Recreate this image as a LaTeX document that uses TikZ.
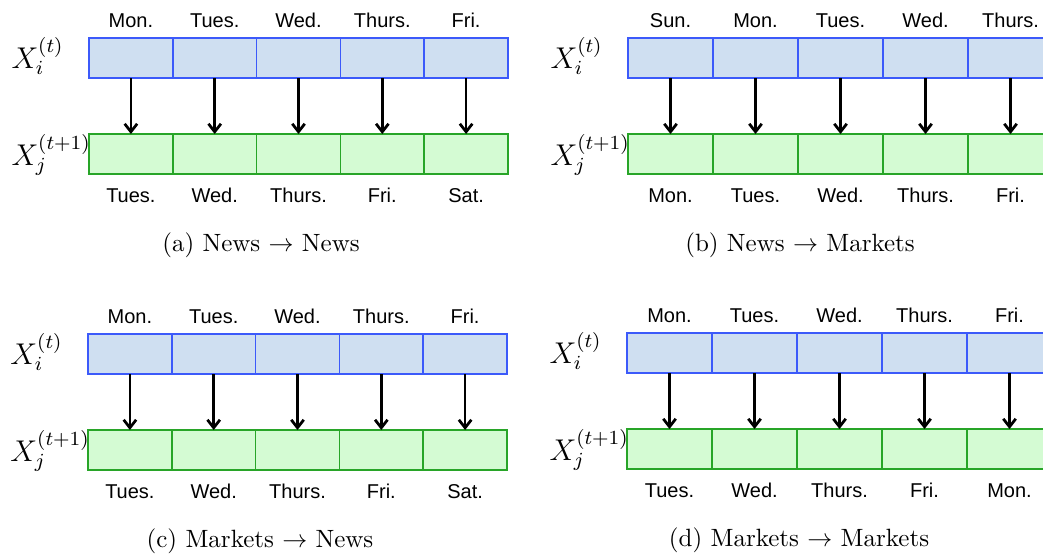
\documentclass[tikz,border=0pt]{standalone}
\usepackage{fontspec}
\usetikzlibrary{arrows.meta}
\newfontfamily\daysf{Liberation Sans}
\definecolor{cellblue}{RGB}{207,223,241}
\definecolor{edgeblue}{RGB}{60,90,250}
\definecolor{cellgreen}{RGB}{212,251,211}
\definecolor{edgegreen}{RGB}{40,165,40}
\newcommand{\weekpanel}[5]{%
    \begin{scope}[shift={#2}]
        \node[varlbl] (#1-xi) at (-78,30) {$X_i^{(t)}$};
        \node[varlbl] (#1-xj) at (-78,127) {$X_j^{(t+1)}$};
        \foreach \d/\e [count=\k] in {#4} {
            \node[topcell, minimum width=#3*0.4pt] (#1-top-\k) at ({(\k-0.5)*#3},20) {};
            \node[botcell, minimum width=#3*0.4pt] (#1-bot-\k) at ({(\k-0.5)*#3},116) {};
            \node[daylbl] (#1-day-\k) at ({(\k-0.5)*#3},-11) {\d};
            \node[daylbl] (#1-next-\k) at ({(\k-0.5)*#3},164) {\e};
            \draw[flow] (#1-top-\k) -- (#1-bot-\k);
        }
        \node[caplbl] (#1-cap) at (172,213) {#5};
    \end{scope}}

\begin{document}
\begin{tikzpicture}[x=0.4pt, y=-0.4pt,
    topcell/.style={draw=edgeblue, fill=cellblue, line width=0.6pt, minimum height=16pt, inner sep=0pt, outer sep=0pt},
    botcell/.style={draw=edgegreen, fill=cellgreen, line width=0.6pt, minimum height=16pt, inner sep=0pt, outer sep=0pt},
    daylbl/.style={anchor=base, inner sep=0pt, font=\fontsize{8}{10}\selectfont\daysf},
    varlbl/.style={anchor=base west, inner sep=0pt, font=\large},
    caplbl/.style={anchor=base, inner sep=0pt, font=\normalsize},
    flow/.style={line width=1.1pt, -{Straight Barb[length=3.2pt,width=5pt]}}]
    \useasboundingbox (0,0) rectangle (1043,554);
    \clip (0,0) rectangle (1043,554);
    \weekpanel{a}{(89,38)}{83.8}{Mon./Tues., Tues./Wed., Wed./Thurs., Thurs./Fri., Fri./Sat.}{(a) News $\rightarrow$ News}
    \weekpanel{b}{(628,38)}{85}{Sun./Mon., Mon./Tues., Tues./Wed., Wed./Thurs., Thurs./Fri.}{(b) News $\rightarrow$ Markets}
    \weekpanel{c}{(88,334)}{83.8}{Mon./Tues., Tues./Wed., Wed./Thurs., Thurs./Fri., Fri./Sat.}{(c) Markets $\rightarrow$ News}
    \weekpanel{d}{(627,333)}{85}{Mon./Tues., Tues./Wed., Wed./Thurs., Thurs./Fri., Fri./Mon.}{(d) Markets $\rightarrow$ Markets}
\end{tikzpicture}
\end{document}
